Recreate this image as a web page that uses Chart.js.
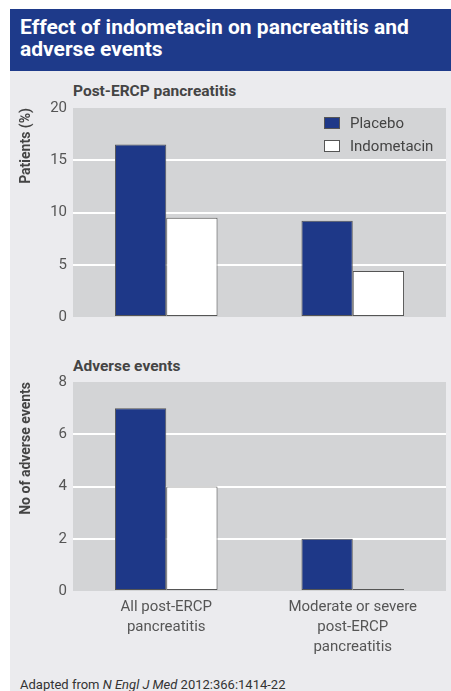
<!DOCTYPE html>
<html lang="en">
<head>
  <meta charset="UTF-8" />
  <title>Effect of indometacin on pancreatitis and adverse events</title>
  <script src="https://cdn.jsdelivr.net/npm/chart.js"></script>
  <style>
    body { margin: 0; width: 451px; height: 691px; overflow: hidden; background: #fff;
           font-family: Roboto, "Noto Sans", sans-serif; position: relative; }
    #header { position: absolute; left: 10px; top: 9px; width: 431px; height: 55px;
              padding: 7px 0 0 10px; background: #1e3a8a; color: #fff;
              font-weight: bold; font-size: 21px; line-height: 22px; }
    #panel { position: absolute; left: 10px; top: 71px; width: 441px; height: 620px; background: #ebebee; }
    .sub { position: absolute; left: 73px; font-weight: bold; font-size: 15.5px; line-height: 20px; color: #444; }
    canvas { position: absolute; left: 0; }
    #legend { position: absolute; left: 324px; top: 115px; font-size: 15px; color: #444; }
    #legend div { height: 23px; line-height: 16px; }
    #legend span.box { display: inline-block; width: 14px; height: 10px; border: 1px solid #555;
                       vertical-align: -1px; margin-right: 10px; }
    #footer { position: absolute; left: 20px; top: 677px; font-size: 13px; line-height: 16px; color: #333; }
  </style>
</head>
<body>
  <div id="header">Effect of indometacin on pancreatitis and<br>adverse events</div>
  <div id="panel"></div>
  <div class="sub" style="top:81px;">Post-ERCP pancreatitis</div>
  <div class="sub" style="top:356px;">Adverse events</div>
  <canvas id="pancChart" width="451" height="239" style="top:93px;"></canvas>
  <canvas id="aeChart" width="451" height="305" style="top:367px;"></canvas>
  <div id="legend"></div>
  <div id="footer">Adapted from <i>N Engl J Med</i> 2012:366:1414-22</div>

  <script>
    const categories = [["All post-ERCP", "pancreatitis"], ["Moderate or severe", "post-ERCP", "pancreatitis"]];
    const seriesNames = ["Placebo", "Indometacin"];
    const seriesColors = ["#1e3888", "#ffffff"];

    // Post-ERCP pancreatitis, % of patients
    const pancPlacebo = [16.5, 9.2];
    const pancIndometacin = [9.5, 4.4];

    // number of adverse events
    const aePlacebo = [7, 2];
    const aeIndometacin = [4, 0];

    // grey plot background behind the grid
    const plotBg = {
      id: "plotBg",
      beforeDraw(chart) {
        const a = chart.chartArea;
        chart.ctx.save();
        chart.ctx.fillStyle = "#d3d4d6";
        chart.ctx.fillRect(a.left, a.top, a.right - a.left, a.bottom - a.top);
        chart.ctx.restore();
      }
    };

    function makeChart(id, placebo, indo, yMax, yStep, yTitle, showX) {
      return new Chart(document.getElementById(id), {
        type: "bar",
        data: {
          labels: categories,
          datasets: [placebo, indo].map((d, i) => ({
            label: seriesNames[i],
            data: d,
            backgroundColor: seriesColors[i],
            borderColor: "#555",
            borderWidth: 1,
            borderSkipped: false,
            minBarLength: 2,
            barPercentage: 1,
            categoryPercentage: 0.55
          }))
        },
        options: {
          responsive: false,
          animation: false,
          layout: { padding: { left: 0, right: 5, top: 10, bottom: showX ? 0 : 13 } },
          plugins: { legend: { display: false }, tooltip: { enabled: false } },
          scales: {
            x: {
              display: showX,
              grid: { display: false, drawTicks: false },
              border: { display: false },
              ticks: { color: "#555", padding: 6, font: { family: "Roboto", size: 15, lineHeight: "20px" } },
              afterFit(scale) { scale.height = showX ? 81 : 0; }
            },
            y: {
              min: 0,
              max: yMax,
              ticks: { stepSize: yStep, color: "#555", padding: 6, font: { family: "Roboto", size: 15 } },
              grid: {
                drawTicks: false,
                lineWidth: 2,
                color: c => (c.tick && (c.tick.value === 0 || c.tick.value === yMax)) ? "rgba(0,0,0,0)" : "#ffffff"
              },
              border: { display: false },
              title: {
                display: true,
                text: yTitle,
                align: "end",
                color: "#444",
                padding: { top: 17.6, bottom: 0 },
                font: { family: "Roboto", size: 14, weight: "bold" }
              },
              afterFit(scale) { scale.width = 73; }
            }
          }
        },
        plugins: [plotBg]
      });
    }

    makeChart("pancChart", pancPlacebo, pancIndometacin, 20, 5, "Patients (%)", false);
    makeChart("aeChart", aePlacebo, aeIndometacin, 8, 2, "No of adverse events", true);

    document.getElementById("legend").innerHTML = seriesNames
      .map((n, i) => `<div><span class="box" style="background:${seriesColors[i]}"></span>${n}</div>`)
      .join("");
  </script>
</body>
</html>
